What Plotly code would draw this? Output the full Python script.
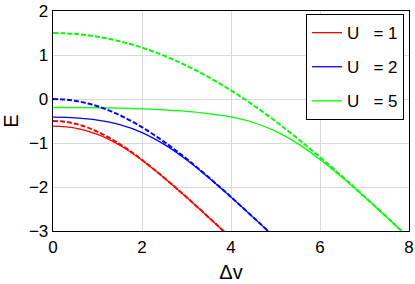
import plotly.graph_objects as go

# Exact (solid) curves
dv_exact_u1 = [0, 0.5, 1, 1.5, 2, 2.5, 3, 3.5, 4]
e_exact_u1 = [-0.618, -0.662, -0.802, -1.050, -1.390, -1.794, -2.232, -2.691, -3.161]

dv_exact_u2 = [0, 0.5, 1, 1.5, 2, 2.5, 3, 3.5, 4, 4.5, 5]
e_exact_u2 = [-0.414, -0.430, -0.481, -0.584, -0.762, -1.032, -1.383, -1.790, -2.230, -2.690, -3.161]

dv_exact_u5 = [0, 0.5, 1, 1.5, 2, 2.5, 3, 3.5, 4, 4.5, 5, 5.5, 6, 6.5, 7, 7.5, 8]
e_exact_u5 = [-0.193, -0.194, -0.200, -0.209, -0.224, -0.247, -0.280, -0.330, -0.408,
              -0.534, -0.731, -1.015, -1.375, -1.786, -2.228, -2.688, -3.160]

# Approximate (dashed) curves
dv_appr_u1 = [0, 0.175, 0.350, 0.527, 0.706, 0.889, 1.077, 1.274, 1.482, 1.707, 1.958,
              2.247, 2.598, 3.051, 3.687, 4.029]
e_appr_u1 = [-0.5, -0.508, -0.531, -0.569, -0.623, -0.693, -0.780, -0.885, -1.012, -1.164,
             -1.349, -1.579, -1.875, -2.277, -2.865, -3.188]

dv_appr_u2 = [0, 0.262, 0.524, 0.786, 1.048, 1.312, 1.577, 1.847, 2.125, 2.414, 2.724,
              3.066, 3.464, 3.957, 4.627, 4.980]
e_appr_u2 = [0, -0.011, -0.046, -0.102, -0.181, -0.282, -0.405, -0.550, -0.719, -0.914,
             -1.143, -1.414, -1.750, -2.188, -2.807, -3.141]

dv_appr_u5 = [0, 0.523, 1.045, 1.562, 2.074, 2.579, 3.077, 3.568, 4.053, 4.536, 5.022,
              5.524, 6.062, 6.676, 7.446, 7.833, 8.562]
e_appr_u5 = [1.5, 1.477, 1.409, 1.297, 1.143, 0.950, 0.720, 0.457, 0.162, -0.164, -0.523,
             -0.921, -1.375, -1.920, -2.631, -2.997, -3.696]

labels = ["U\u00a0\u00a0\u00a0= 1", "U\u00a0\u00a0\u00a0= 2", "U\u00a0\u00a0\u00a0= 5"]
colors = ["#ff0000", "#0000ff", "#00ff00"]

x_ticks = [0, 2, 4, 6, 8]
y_ticks = [-3, -2, -1, 0, 1, 2]

exact = [(dv_exact_u1, e_exact_u1), (dv_exact_u2, e_exact_u2), (dv_exact_u5, e_exact_u5)]
appr = [(dv_appr_u1, e_appr_u1), (dv_appr_u2, e_appr_u2), (dv_appr_u5, e_appr_u5)]

fig = go.Figure()
for i in range(3):
    fig.add_trace(go.Scatter(x=exact[i][0], y=exact[i][1], mode="lines",
                             line=dict(color=colors[i], width=1.3, shape="spline"),
                             name=labels[i], legendgroup=str(i), showlegend=True))
for i in range(3):
    fig.add_trace(go.Scatter(x=appr[i][0], y=appr[i][1], mode="lines",
                             line=dict(color=colors[i], width=2, dash="5px,2px", shape="spline"),
                             legendgroup=str(i), showlegend=False))

fam = "Liberation Sans, Arial, sans-serif"
fig.update_layout(
    width=415, height=284,
    margin=dict(l=53, r=6, t=11, b=53, autoexpand=False),
    paper_bgcolor="white", plot_bgcolor="white",
    font=dict(family=fam, size=17, color="#000000"),
    showlegend=True,
    legend=dict(x=0.986, y=0.986, xanchor="right", yanchor="top",
                bgcolor="white", bordercolor="#000000", borderwidth=1,
                font=dict(family=fam, size=17),
                tracegroupgap=9, itemwidth=30),
    xaxis=dict(range=[0, 8], tickvals=x_ticks, showgrid=True, gridcolor="#d9d9d9",
               gridwidth=1, zeroline=False, showline=True, linecolor="#000000",
               linewidth=1.3, mirror=True, ticks="", automargin=False,
               title=dict(text="Δv", standoff=9)),
    yaxis=dict(range=[-3, 2], tickvals=y_ticks, showgrid=True, gridcolor="#d9d9d9",
               gridwidth=1, zeroline=False, showline=True, linecolor="#000000",
               linewidth=1.3, mirror=True, ticks="", automargin=False,
               title=dict(text="E", standoff=6)),
)
fig.write_html("out.html", config={"displayModeBar": False, "staticPlot": True},
               post_script="document.body.style.margin='0';document.body.style.overflow='hidden';")
